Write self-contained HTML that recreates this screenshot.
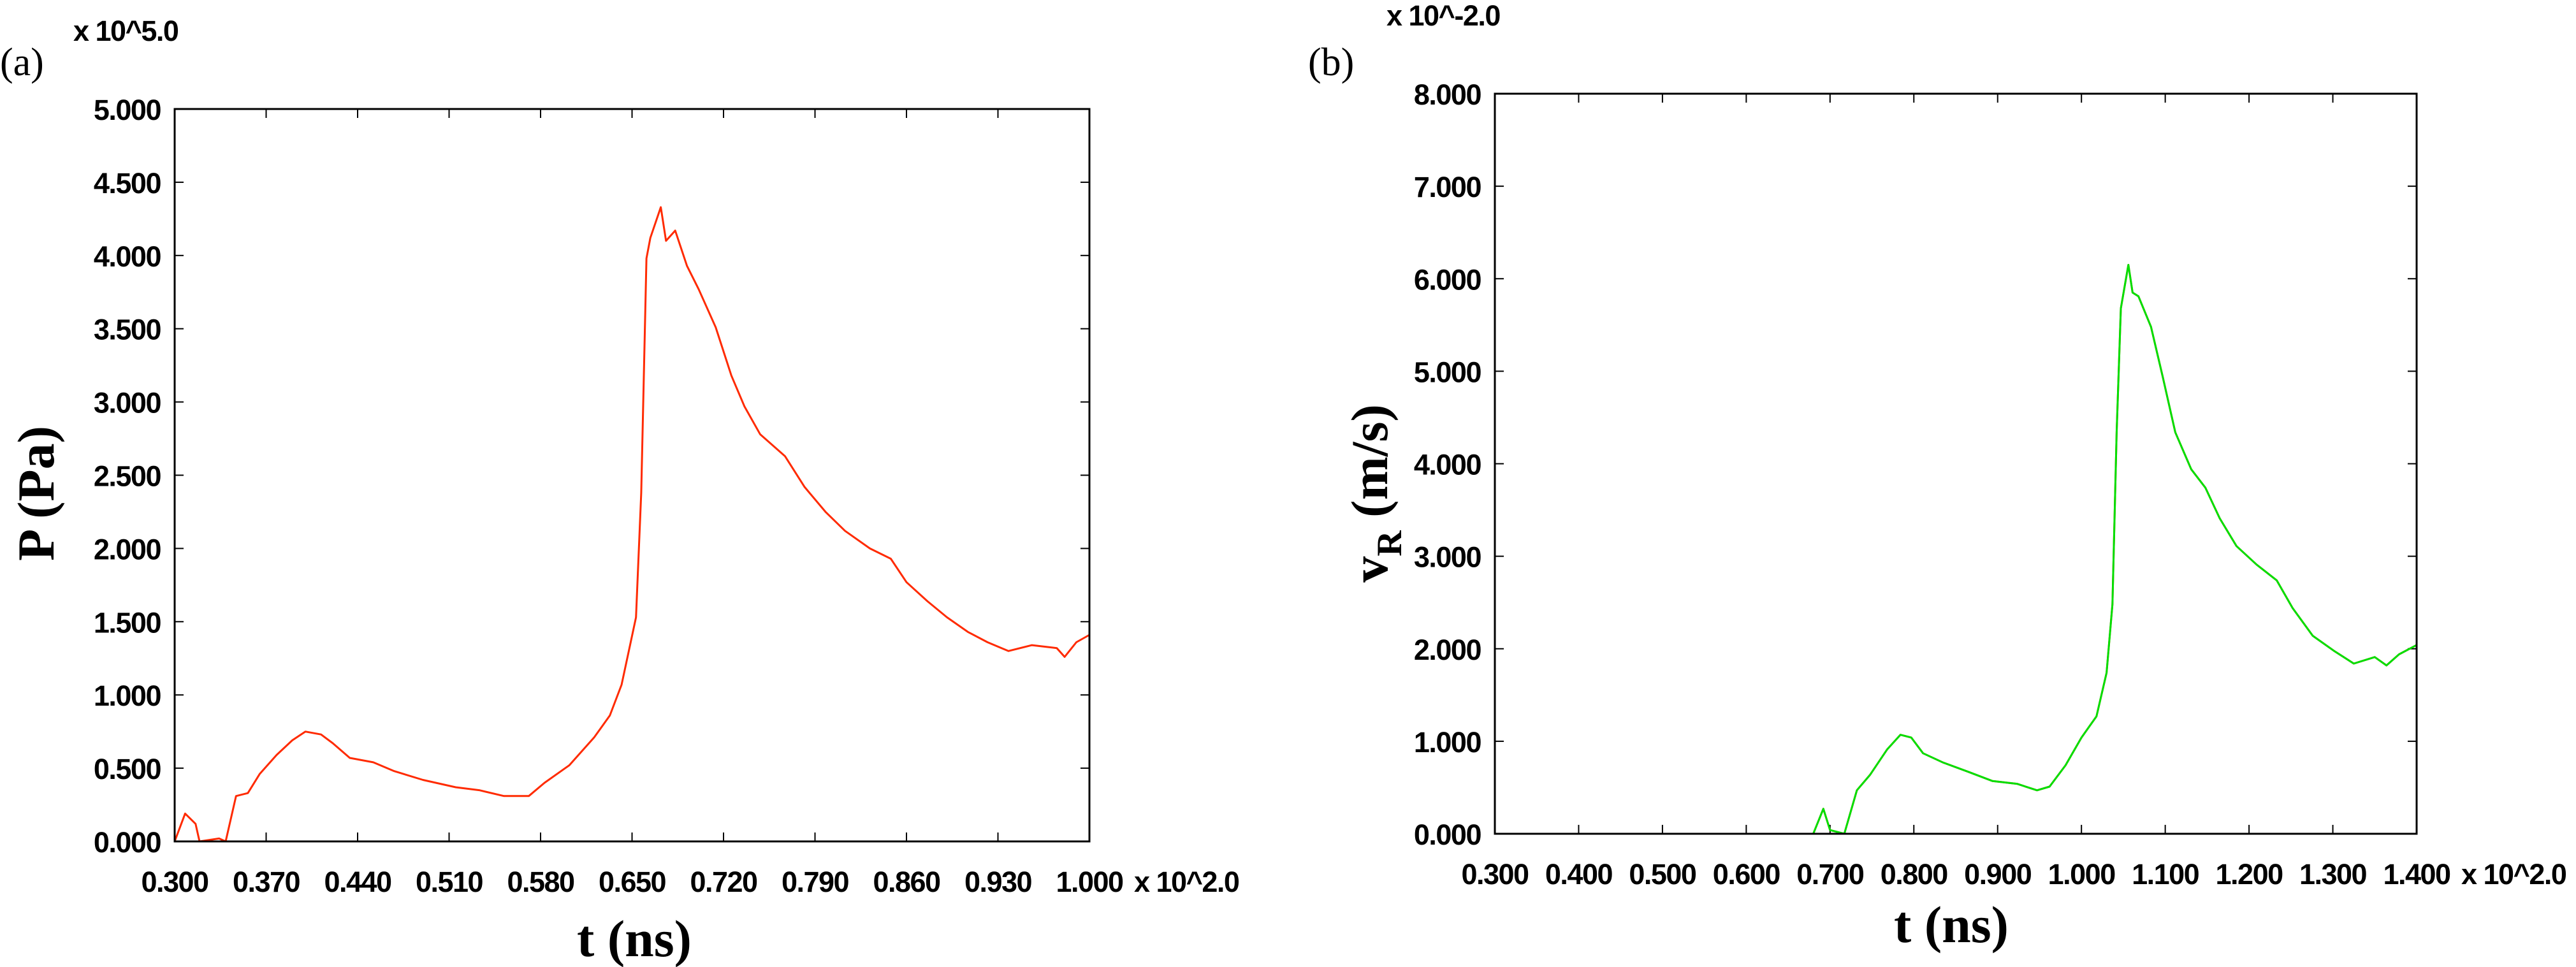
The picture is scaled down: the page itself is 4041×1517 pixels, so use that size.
<!DOCTYPE html>
<html><head><meta charset="utf-8">
<style>
html,body{margin:0;padding:0;background:#fff;}
svg{display:block;}
.tk{font-family:"Liberation Sans",sans-serif;font-weight:bold;font-size:45px;letter-spacing:-1.5px;fill:#000;}
.ax{font-family:"Liberation Serif",serif;font-weight:bold;font-size:82px;fill:#000;}
.pl{font-family:"Liberation Serif",serif;font-size:62px;fill:#000;}
</style></head>
<body>
<svg id="chart" width="4041" height="1517" viewBox="0 0 4041 1517" xmlns="http://www.w3.org/2000/svg">
<text class="pl" x="0" y="118">(a)</text>
<text class="tk" x="115" y="64">x 10^5.0</text>
<text class="ax" transform="translate(84,774) rotate(-90)" text-anchor="middle">P (Pa)</text>
<text class="ax" x="995" y="1500" text-anchor="middle">t (ns)</text>
<text class="pl" x="2052" y="118">(b)</text>
<text class="tk" x="2175" y="40">x 10^-2.0</text>
<text class="ax" transform="translate(2176,774) rotate(-90)" text-anchor="middle">v<tspan font-size="56" dy="22">R</tspan><tspan dy="-22"> (m/s)</tspan></text>
<text class="ax" x="3061" y="1478" text-anchor="middle">t (ns)</text>
<g id="ga"></g><g id="gb"></g>
</svg>
<script>
// Panel (a) data
const aX = [0.300,0.308,0.316,0.319,0.334,0.339,0.347,0.356,0.365,0.378,0.390,0.400,0.412,0.421,0.434,0.452,0.468,0.490,0.515,0.533,0.552,0.571,0.583,0.602,0.621,0.633,0.642,0.648,0.653,0.657,0.661,0.664,0.672,0.676,0.683,0.692,0.701,0.714,0.726,0.736,0.748,0.767,0.782,0.798,0.813,0.832,0.848,0.860,0.876,0.891,0.907,0.922,0.938,0.956,0.975,0.981,0.990,1.000];
const aY = [0,0.19,0.12,0,0.02,0,0.31,0.33,0.46,0.59,0.69,0.75,0.73,0.67,0.57,0.54,0.48,0.42,0.37,0.35,0.31,0.31,0.40,0.52,0.71,0.86,1.07,1.32,1.53,2.38,3.98,4.12,4.33,4.10,4.17,3.93,3.77,3.51,3.18,2.97,2.78,2.63,2.42,2.25,2.12,2.00,1.93,1.77,1.64,1.53,1.43,1.36,1.30,1.34,1.32,1.26,1.36,1.41];
const aXTicks = ["0.300","0.370","0.440","0.510","0.580","0.650","0.720","0.790","0.860","0.930","1.000"];
const aYTicks = ["0.000","0.500","1.000","1.500","2.000","2.500","3.000","3.500","4.000","4.500","5.000"];
// Panel (b) data
const bX = [0.680,0.692,0.700,0.717,0.732,0.748,0.768,0.784,0.797,0.811,0.835,0.865,0.894,0.923,0.947,0.962,0.981,1.000,1.018,1.030,1.037,1.042,1.047,1.056,1.061,1.068,1.083,1.097,1.112,1.131,1.148,1.165,1.185,1.209,1.233,1.252,1.276,1.301,1.325,1.350,1.364,1.379,1.400];
const bY = [0,0.27,0.04,0,0.47,0.64,0.91,1.07,1.04,0.87,0.77,0.67,0.57,0.54,0.47,0.51,0.74,1.04,1.27,1.74,2.48,4.34,5.68,6.15,5.85,5.81,5.48,4.94,4.34,3.94,3.74,3.41,3.11,2.91,2.74,2.44,2.14,1.98,1.84,1.91,1.82,1.94,2.04];
const bXTicks = ["0.300","0.400","0.500","0.600","0.700","0.800","0.900","1.000","1.100","1.200","1.300","1.400"];
const bYTicks = ["0.000","1.000","2.000","3.000","4.000","5.000","6.000","7.000","8.000"];

const NS="http://www.w3.org/2000/svg";
function mk(tag,attrs,parent){const e=document.createElementNS(NS,tag);for(const k in attrs)e.setAttribute(k,attrs[k]);parent.appendChild(e);return e;}

function panel(g,box,xr,yr,xt,yt,xs,ys,colors,prefix,xlabY){
  const sx=v=>box.l+(v-xr[0])/(xr[1]-xr[0])*(box.r-box.l);
  const sy=v=>box.b-(v-yr[0])/(yr[1]-yr[0])*(box.b-box.t);
  xt.forEach(t=>{const v=parseFloat(t),x=sx(v);
    const l1=mk('line',{x1:x,x2:x,y1:box.b,y2:box.b-14,stroke:'#000','stroke-width':2},g);
    
    
    const l2=mk('line',{x1:x,x2:x,y1:box.t,y2:box.t+14,stroke:'#000','stroke-width':2},g);
    
    
    const tx=mk('text',{x:x,y:xlabY,'text-anchor':'middle','class':'tk'},g);tx.textContent=t;
    
    
  });
  const mx=mk('text',{x:sx(xr[1])+70,y:xlabY,'class':'tk'},g);mx.textContent='x 10^2.0';
  
  
  yt.forEach(t=>{const v=parseFloat(t),y=sy(v);
    const l1=mk('line',{x1:box.l,x2:box.l+14,y1:y,y2:y,stroke:'#000','stroke-width':2},g);
    
    
    const l2=mk('line',{x1:box.r,x2:box.r-14,y1:y,y2:y,stroke:'#000','stroke-width':2},g);
    
    
    const tx=mk('text',{x:box.l-22,y:y+17,'text-anchor':'end','class':'tk'},g);tx.textContent=t;
    
    
  });
  colors.forEach((c,i)=>{
    const pts=xs.map((v,j)=>sx(v).toFixed(1)+','+sy(ys[j]).toFixed(1)).join(' ');
    const p=mk('polyline',{points:pts,fill:'none',stroke:c,'stroke-width':3,'stroke-linejoin':'round'},g);
    
    
  });
  const fr=mk('rect',{x:box.l,y:box.t,width:box.r-box.l,height:box.b-box.t,fill:'none',stroke:'#000','stroke-width':3},g);
  
  
}
const ga=document.getElementById('ga');


const gb=document.getElementById('gb');


panel(ga,{l:274,r:1709,t:171,b:1320},[0.3,1.0],[0,5],aXTicks,aYTicks,aX,aY,['#ff2a00'],'panel-a',1399);
panel(gb,{l:2345,r:3791,t:147,b:1308},[0.3,1.4],[0,8],bXTicks,bYTicks,bX,bY,['#ff2a00','#00e000'],'panel-b',1387);
</script>
</body></html>
